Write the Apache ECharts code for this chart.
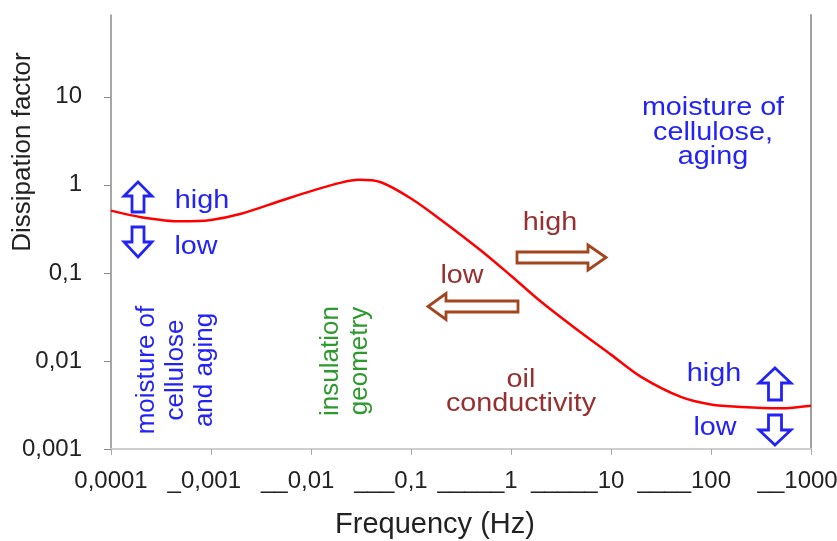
<!DOCTYPE html>
<html>
<head>
<meta charset="utf-8">
<script src="https://cdn.jsdelivr.net/npm/echarts@6/dist/echarts.min.js"></script>
<style>
  html, body { margin: 0; padding: 0; background: #fff; }
  #main { width: 837px; height: 541px; }
</style>
</head>
<body>
<div id="main"></div>
<script>
// frequency (Hz) and dissipation factor
var frequency = [0.0001, 0.0002, 0.0005, 0.001, 0.002, 0.005, 0.01, 0.02, 0.03, 0.05,
                 0.1, 0.2, 0.5, 1, 2, 5, 10, 20, 50, 100, 200, 500, 1000];
var dissipation = [0.51, 0.43, 0.385, 0.40, 0.47, 0.66, 0.85, 1.06, 1.14, 1.07,
                   0.70, 0.40, 0.18, 0.093, 0.047, 0.021, 0.0118, 0.0066, 0.0039, 0.0032, 0.0030, 0.0029, 0.0031];

var xTickLabels = ['0,0001', '_0,001', '__0,01', '___0,1', '_____1', '_____10', '____100', '__1000'];
var yTickLabels = ['0,001', '0,01', '0,1', '1', '10'];
var yTickValues = [0.001, 0.01, 0.1, 1, 10];

var FONT = "'Liberation Sans', Arial, sans-serif";
var BLUE = '#2323f5';
var BROWN_TEXT = '#973030';
var BROWN_LINE = '#a1461f';
var GREEN = '#2c9a2c';

// exponent of a power of ten, or null
function decade(v) {
    var e = Math.log10(v);
    return Math.abs(e - Math.round(e)) < 1e-9 ? Math.round(e) : null;
}

// hollow block arrows
function arrowV(cx, yTip, yEnd, w, head, shaft, color) {
    var d = yEnd > yTip ? 1 : -1;
    var yb = yTip + d * head;
    return {
        type: 'polygon',
        shape: { points: [[cx, yTip], [cx + w / 2, yb], [cx + shaft / 2, yb], [cx + shaft / 2, yEnd],
                          [cx - shaft / 2, yEnd], [cx - shaft / 2, yb], [cx - w / 2, yb]] },
        style: { fill: '#fff', stroke: color, lineWidth: 2.8 }
    };
}
function arrowH(cy, xTip, xEnd, h, head, shaft, color) {
    var d = xEnd > xTip ? 1 : -1;
    var xb = xTip + d * head;
    return {
        type: 'polygon',
        shape: { points: [[xTip, cy], [xb, cy - h / 2], [xb, cy - shaft / 2], [xEnd, cy - shaft / 2],
                          [xEnd, cy + shaft / 2], [xb, cy + shaft / 2], [xb, cy + h / 2]] },
        style: { fill: '#fff', stroke: color, lineWidth: 2.8 }
    };
}
function label(x, y, text, color, opts) {
    opts = opts || {};
    return {
        type: 'text',
        x: x, y: y,
        rotation: opts.rotate ? Math.PI / 2 : 0,
        scaleX: opts.rotate ? 1 : 1.15,
        style: {
            text: text, fill: color, font: (opts.size || 25) + 'px ' + FONT,
            align: 'center', verticalAlign: 'middle', lineHeight: opts.lh || 25
        }
    };
}

var chart = echarts.init(document.getElementById('main'));
chart.setOption({
    animation: false,
    grid: { left: 111, right: 26, top: 15, bottom: 92, outerBoundsMode: 'none' },
    xAxis: {
        type: 'log',
        min: 0.0001,
        max: 1000.01,
        name: 'Frequency (Hz)',
        nameLocation: 'middle',
        nameGap: 61,
        nameMoveOverlap: false,
        nameTextStyle: { fontFamily: FONT, fontSize: 29, color: '#222', padding: [0, 52, 0, 0] },
        axisLine: { lineStyle: { color: '#cfcfcf', width: 2 } },
        axisTick: { length: 6, lineStyle: { color: '#aaa' } },
        splitLine: { show: false },
        axisLabel: {
            margin: 20,
            showMaxLabel: false,
            fontFamily: FONT, fontSize: 24, color: '#222',
            formatter: function (v) {
                var e = decade(v);
                if (e === null) return '';
                var m = (xTickLabels[e + 4] || '').match(/^(_*)(.*)$/);
                if (!m[1]) return '{n|' + m[2] + '}';
                // transparent tail keeps the number centred on its tick
                return '{u|' + m[1] + '}{n|' + m[2] + '}{p|' + m[1] + '}';
            },
            rich: {
                u: { fontFamily: FONT, fontSize: 24, color: '#222' },
                n: { fontFamily: FONT, fontSize: 24, color: '#222' },
                p: { fontFamily: FONT, fontSize: 24, color: 'rgba(0,0,0,0)' }
            }
        }
    },
    yAxis: [{
        type: 'log',
        min: 0.001,
        max: 85,
        name: 'Dissipation factor',
        nameLocation: 'middle',
        nameRotate: 90,
        nameGap: 75,
        nameMoveOverlap: false,
        nameTextStyle: { fontFamily: FONT, fontSize: 26, color: '#222', padding: [0, 0, 0, 160] },
        axisLine: { show: true, lineStyle: { color: '#8a8a8a', width: 1.5 } },
        axisTick: { show: true, length: 7, lineStyle: { color: '#8a8a8a' }, customValues: yTickValues },
        splitLine: { show: false },
        axisLabel: {
            margin: 29,
            fontFamily: FONT, fontSize: 24, color: '#222',
            customValues: yTickValues,
            formatter: function (v) {
                var e = decade(v);
                return e === null ? '' : (yTickLabels[e + 3] || '');
            }
        }
    }, {
        type: 'log',
        min: 0.001,
        max: 85,
        position: 'right',
        axisLine: { show: true, lineStyle: { color: '#a0a0a0', width: 2 } },
        axisTick: { show: false },
        axisLabel: { show: false },
        splitLine: { show: false }
    }],
    series: [{
        type: 'line',
        data: frequency.map(function (f, i) { return [f, dissipation[i]]; }),
        smooth: 0.3,
        showSymbol: false,
        lineStyle: { color: '#ff0000', width: 2.5 }
    }],
    graphic: [
        // left: moisture of cellulose high / low
        arrowV(138, 182, 212, 28, 14, 12, BLUE),
        arrowV(138, 257, 227, 28, 15, 12, BLUE),
        label(202, 201, 'high', BLUE),
        label(196, 247, 'low', BLUE),
        label(176, 370, 'moisture of\ncellulose\nand aging', BLUE, { rotate: true, size: 26, lh: 29 }),
        // insulation geometry
        label(345, 361, 'insulation\ngeometry', GREEN, { rotate: true, size: 26, lh: 29 }),
        // oil conductivity
        label(550, 223, 'high', BROWN_TEXT),
        arrowH(257.5, 606, 517, 25, 18, 11, BROWN_LINE),
        label(462, 276, 'low', BROWN_TEXT),
        arrowH(306.5, 428, 518, 26, 18, 11, BROWN_LINE),
        label(521, 392, 'oil\nconductivity', BROWN_TEXT, { lh: 24 }),
        // right: moisture of cellulose, aging
        label(713, 133, 'moisture of\ncellulose,\naging', BLUE, { lh: 24.5 }),
        label(714, 374, 'high', BLUE),
        label(715, 428, 'low', BLUE),
        arrowV(775, 368, 400, 32, 15, 13, BLUE),
        arrowV(775, 445, 415, 32, 15, 13, BLUE)
    ]
});
</script>
</body>
</html>
